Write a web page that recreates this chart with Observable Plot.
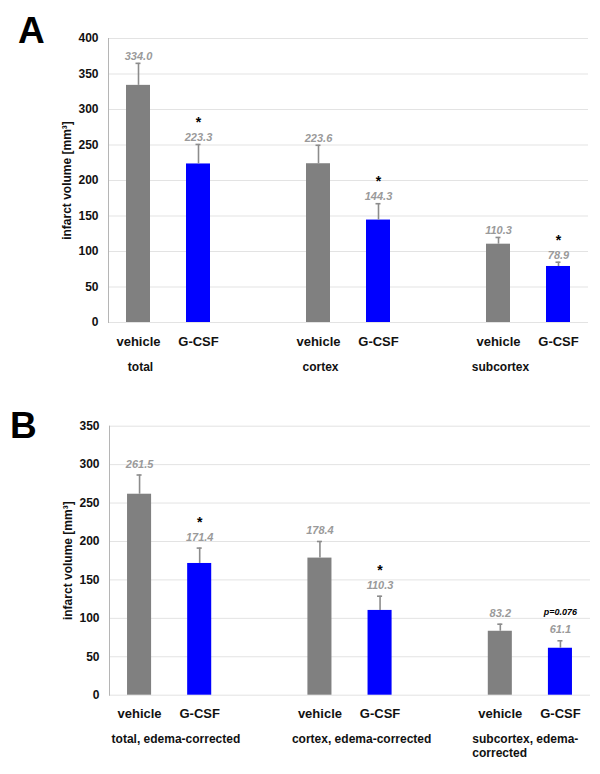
<!DOCTYPE html>
<html><head><meta charset="utf-8">
<script src="https://cdn.jsdelivr.net/npm/d3@7"></script>
<script src="https://cdn.jsdelivr.net/npm/@observablehq/plot@0.6"></script>
<style>
body{margin:0;background:#fff;font-family:"Liberation Sans",Arial,sans-serif;}
#wrap{position:relative;width:600px;height:774px;overflow:hidden;}
.panel{position:absolute;left:0;}
.letter{position:absolute;font-weight:bold;font-size:37px;line-height:1;font-family:"Liberation Sans",Arial,sans-serif;}
</style></head><body>
<div id="wrap">
 <div id="pA" class="panel" style="top:0"></div>
 <div id="pB" class="panel" style="top:380px"></div>
 <div class="letter" style="left:18px;top:12px">A</div>
 <div class="letter" style="left:10px;top:407px">B</div>
</div>
<script>
// ---- data ----
const treatments = ["vehicle", "G-CSF"];
const regionsA = ["total", "cortex", "subcortex"];
const regionsB = ["total, edema-corrected", "cortex, edema-corrected", "subcortex, edema-\ncorrected"];
const meansA = [334.0, 223.3, 223.6, 144.3, 110.3, 78.9];
const errorsA = [31, 27.5, 26, 23, 9.5, 6];
const sigA = ["", "*", "", "*", "", "*"];
const meansB = [261.5, 171.4, 178.4, 110.3, 83.2, 61.1];
const errorsB = [25, 20, 21.6, 18.5, 9.2, 9.7];
const sigB = ["", "*", "", "*", "", "p=0.076"];
const yTicksA = [0, 50, 100, 150, 200, 250, 300, 350, 400];
const yTicksB = [0, 50, 100, 150, 200, 250, 300, 350];
const yLabel = "infarct volume [mm³]";
const colors = {"vehicle": "#808080", "G-CSF": "#0000ff"};

function buildPanel(o) {
  // slots: vehicle, G-CSF, (gap) for each region
  const domain = [];
  o.regions.forEach((r, i) => {
    treatments.forEach(t => domain.push(i + "|" + t));
    if (i < o.regions.length - 1) domain.push("gap" + i);
  });
  const rows = [];
  o.regions.forEach((r, i) => {
    treatments.forEach((t, j) => {
      const k = i * 2 + j;
      rows.push({slot: i + "|" + t, treatment: t, mean: o.means[k], top: o.means[k] + o.errors[k],
                 label: o.means[k].toFixed(1), sig: o.sigs[k]});
    });
  });
  const groups = o.regions.map((r, i) => ({slot: i + "|vehicle", name: r}));
  const font = '"Liberation Sans",Arial,sans-serif';
  return Plot.plot({
    width: 600, height: o.height,
    marginTop: o.marginTop, marginBottom: o.marginBottom,
    marginLeft: o.marginLeft, marginRight: o.marginRight,
    style: {fontFamily: font, fontWeight: "bold", fontSize: "12px", color: "#111", background: "#fff"},
    x: {domain, paddingInner: 0.6, paddingOuter: 0.3, round: false},
    y: {domain: [0, o.ticks[o.ticks.length - 1]]},
    marks: [
      Plot.gridY(o.ticks, {stroke: "#e3e3e3", strokeOpacity: 1}),
      Plot.frame({anchor: "left", stroke: "#b5b5b5"}),
      Plot.axisY(o.ticks, {tickSize: 0, tickPadding: 10, fontSize: 12, fontWeight: "bold",
        label: yLabel, labelAnchor: "center", labelArrow: "none", labelOffset: 46}),
      Plot.axisX({tickSize: 0, tickPadding: 14, fontSize: 13, fontWeight: "bold", label: null,
        tickFormat: s => s.startsWith("gap") ? "" : s.split("|")[1]}),
      Plot.barY(rows, {x: "slot", y: "mean", fill: d => colors[d.treatment]}),
      Plot.ruleX(rows, {x: "slot", y1: "mean", y2: "top", stroke: "#8c8c8c", strokeWidth: 1.6}),
      Plot.tickY(rows, {x: "slot", y: "top", stroke: "#8c8c8c", strokeWidth: 1.6, insetLeft: 9.5, insetRight: 9.5}),
      Plot.text(rows, {x: "slot", y: "top", text: "label", dy: o.valDy, fill: "#9a9a9a",
        fontStyle: "italic", fontWeight: "bold", fontSize: 11}),
      Plot.text(rows.filter(d => d.sig === "*"), {x: "slot", y: "top", text: "sig", dy: o.starDy,
        fill: "#000", fontWeight: "bold", fontSize: 14}),
      Plot.text(rows.filter(d => d.sig && d.sig !== "*"), {x: "slot", y: "top", text: "sig", dy: o.pDy,
        fill: "#000", fontWeight: "bold", fontStyle: "italic", fontSize: 9}),
      Plot.text(groups, {x: "slot", text: "name", frameAnchor: "bottom", dy: o.groupDy, dx: o.groupDx,
        textAnchor: o.groupAnchor, lineAnchor: "top", lineHeight: 1.17, fontSize: 12, fontWeight: "bold", fill: "#111"})
    ]
  });
}

document.getElementById("pA").append(buildPanel({
  regions: regionsA, means: meansA, errors: errorsA, sigs: sigA, ticks: yTicksA,
  height: 380, marginTop: 38, marginBottom: 58, marginLeft: 108, marginRight: 12,
  valDy: -7, starDy: -22, pDy: -28, groupDy: 38.5, groupDx: 2, groupAnchor: "middle"
}));
document.getElementById("pB").append(buildPanel({
  regions: regionsB, means: meansB, errors: errorsB, sigs: sigB, ticks: yTicksB,
  height: 394, marginTop: 45.7, marginBottom: 79.3, marginLeft: 109, marginRight: 10,
  valDy: -11, starDy: -26, pDy: -29, groupDy: 37.5, groupDx: -28, groupAnchor: "start"
}));
</script>
</body></html>
